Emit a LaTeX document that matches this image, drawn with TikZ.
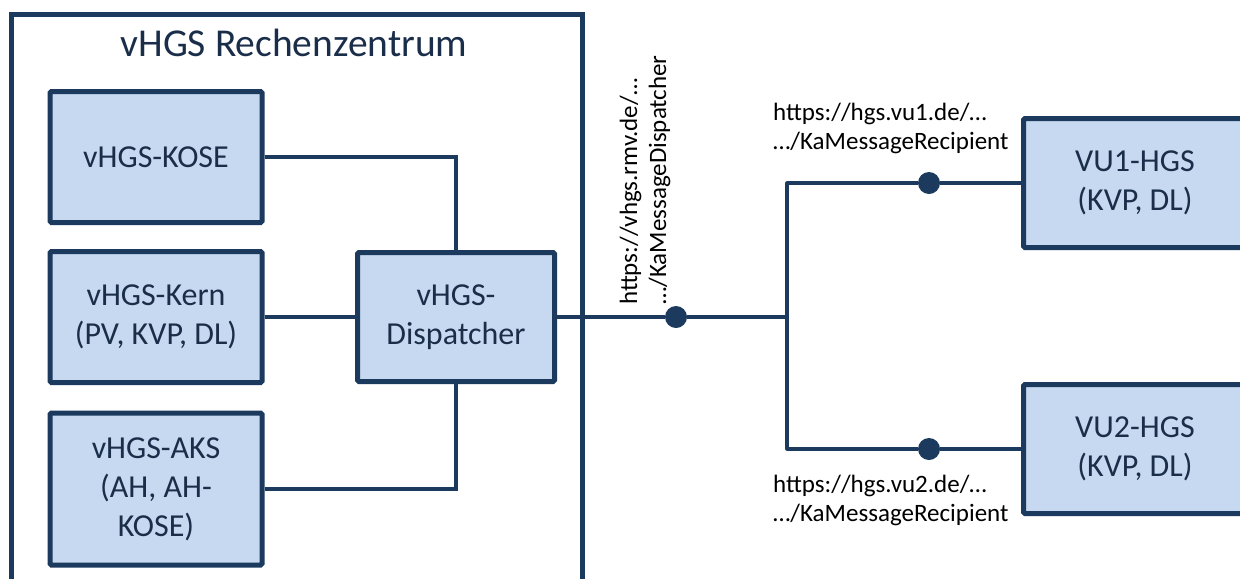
\documentclass[tikz,border=0pt]{standalone}
\usepackage{fontspec}
\setmainfont{Carlito}
\definecolor{navy}{HTML}{1B3A5E}
\definecolor{boxfill}{HTML}{C6D9F0}
\definecolor{ink}{HTML}{1A2E4A}
\begin{document}
\begin{tikzpicture}[x=1pt,y=-1pt,
  unit/.style={draw=navy, line width=5pt, fill=boxfill, text=ink, align=center,
    inner sep=0pt, rounded corners=1.5pt, font=\fontsize{32}{39}\selectfont},
  wire/.style={draw=navy, line width=3.2pt},
  tap/.style={circle, fill=navy, minimum size=22pt, inner sep=0pt},
  url/.style={font=\fontsize{25}{29}\selectfont, text=black, align=left, inner sep=0pt}]
\useasboundingbox (0,0) rectangle (1240,579);

% data centre frame (open at the bottom)
\draw[navy, line width=5pt] (11,579) -- (11,14) -- (582,14) -- (582,579);
\node[text=ink, font=\fontsize{39.5}{46}\selectfont, anchor=base] (title) at (294,56) {vHGS Rechenzentrum};

% components inside the data centre
\node[unit, minimum width=212pt, minimum height=131pt] (kose) at (156,157) {vHGS-KOSE};
\node[unit, minimum width=212pt, minimum height=131pt] (kern) at (156,317) {vHGS-Kern\\(PV, KVP, DL)};
\node[unit, minimum width=212pt, minimum height=152pt] (aks) at (156,489) {vHGS-AKS\\(AH, AH-\\KOSE)};
\node[unit, minimum width=197pt, minimum height=129pt] (disp) at (456,317) {vHGS-\\Dispatcher};

% external recipients
\node[unit, minimum width=223pt, minimum height=129pt] (vu1) at (1135,183) {VU1-HGS\\(KVP, DL)};
\node[unit, minimum width=223pt, minimum height=129pt] (vu2) at (1135,449) {VU2-HGS\\(KVP, DL)};

% internal wiring
\draw[wire] (kose.east) -- (kose.east -| disp.north) -- (disp.north);
\draw[wire] (kern.east) -- (kern.east -| disp.west);
\draw[wire] (aks.east) -- (aks.east -| disp.south) -- (disp.south);

% endpoints and branching
\coordinate (split) at (787,317);
\coordinate (up) at (787,183);
\coordinate (down) at (787,449);
\node[tap] (ep0) at (676,317) {};
\node[tap] (ep1) at (929,183) {};
\node[tap] (ep2) at (929,449) {};

\draw[wire, line width=3.6pt] (disp.east |- split) -- (ep0) -- (split);
\draw[wire, line join=round] (vu1.west) -- (ep1) -- (up) -- (down) -- (ep2) -- (vu2.west);

% endpoint addresses
\node[url, rotate=90, anchor=west] (a0) at (645,305) {https://vhgs.rmv.de/…\\…/KaMessageDispatcher};
\node[url, anchor=base west] (a1) at (773,149) {https://hgs.vu1.de/…\\…/KaMessageRecipient};
\node[url, anchor=base west] (a2) at (773,521) {https://hgs.vu2.de/…\\…/KaMessageRecipient};
\end{tikzpicture}
\end{document}
